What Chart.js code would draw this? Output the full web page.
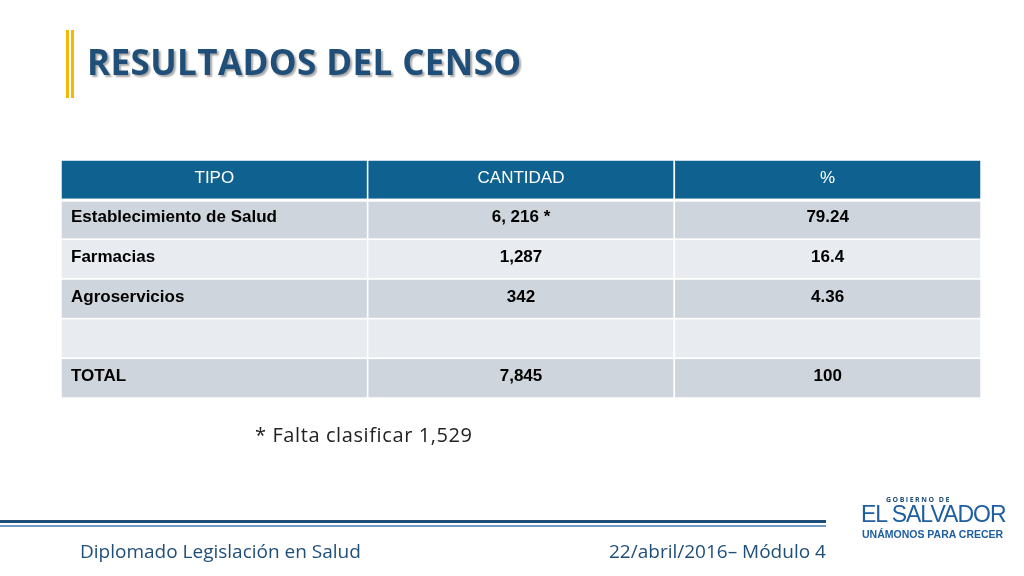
<!DOCTYPE html>
<html><head><meta charset="utf-8">
<script src="https://cdn.jsdelivr.net/npm/chart.js@4/dist/chart.umd.min.js"></script>
<style>
body{margin:0;width:1024px;height:576px;background:#fff;position:relative;overflow:hidden;font-family:"Open Sans",sans-serif}
#c{position:absolute;left:0;top:0}
.t{position:absolute;white-space:nowrap}
</style></head><body>
<canvas id="c" width="1024" height="576"></canvas>
<div class="t" style="left:66px;top:30px;width:3px;height:68px;background:#f2b900"></div>
<div class="t" style="left:71px;top:30px;width:3px;height:68px;background:#f2b900"></div>
<div class="t" style="left:87px;top:38px;font-size:35px;font-weight:bold;color:#1f4e79;text-shadow:2px 2px 2px rgba(0,0,0,.35);letter-spacing:0.4px">RESULTADOS DEL CENSO</div>
<div class="t" style="left:255px;top:421px;font-size:20px;color:#222;letter-spacing:0.6px">* Falta clasificar 1,529</div>
<div class="t" style="left:0;top:520px;width:826px;height:3px;background:#1f4e79"></div>
<div class="t" style="left:0;top:525px;width:826px;height:2px;background:#6f9bc6"></div>
<div class="t" style="left:80px;top:538px;font-size:19px;color:#1f4e79">Diplomado Legislación en Salud</div>
<div class="t" style="left:609px;top:538px;font-size:19px;color:#1f4e79">22/abril/2016– Módulo 4</div>
<div class="t" style="left:886px;top:495px;font-size:7px;font-weight:bold;color:#1f4e79;letter-spacing:1.5px">GOBIERNO DE</div>
<div class="t" style="left:861px;top:501px;font-size:23px;font-family:'Liberation Sans';color:#1f5fa0;letter-spacing:-1px">EL SALVADOR</div>
<div class="t" style="left:862px;top:528px;font-size:10.5px;font-weight:bold;font-family:'Liberation Sans';color:#1f5fa0">UNÁMONOS PARA CRECER</div>
<script>
const columns=['TIPO','CANTIDAD','%'];
const rowTypes=['Establecimiento de Salud','Farmacias','Agroservicios','','TOTAL'];
const cantidad=['6, 216 *','1,287','342','','7,845'];
const porcentaje=['79.24','16.4','4.36','','100'];
const rows=['header'].concat(rowTypes.map((_,i)=>'r'+i));
const tablePlugin={id:'table',beforeDatasetsDraw(ch){
 const ctx=ch.ctx,xs=ch.scales.x,ys=ch.scales.y;
 const cw=(xs.right-xs.left)/columns.length,rh=(ys.bottom-ys.top)/rows.length;
 rows.forEach((r,ri)=>{
  const cy=ys.getPixelForValue(ri);
  columns.forEach((c,ci)=>{
   const cx=xs.getPixelForValue(ci);
   let fill,txt,col='#000';
   if(ri===0){fill='#0f6290';txt=c;col='#fff';}
   else{fill=(ri%2===1)?'#cfd5dd':'#e8ebef';const k=ri-1;txt=ci===0?rowTypes[k]:ci===1?cantidad[k]:porcentaje[k];}
   ctx.fillStyle=fill;ctx.fillRect(cx-cw/2,cy-rh/2,cw,rh);
   ctx.strokeStyle='#fff';ctx.lineWidth=1.5;ctx.strokeRect(cx-cw/2,cy-rh/2,cw,rh);
   ctx.fillStyle=col;ctx.font=(ri===0?'':'bold ')+'17px "Liberation Sans"';ctx.textBaseline='middle';
   if(ci===0&&ri>0){ctx.textAlign='left';ctx.fillText(txt,cx-cw/2+10,cy-2);}
   else{ctx.textAlign='center';ctx.fillText(txt,cx,cy-2);}
  });
 });
 ctx.fillStyle='#fff';ctx.fillRect(xs.left,ys.getPixelForValue(0)+rh/2-1,xs.right-xs.left,3);
}};
new Chart(document.getElementById('c'),{type:'bar',
 data:{labels:columns,datasets:[{data:[]}]},
 options:{responsive:false,animation:false,layout:{padding:{left:61,right:43,top:160,bottom:178}},
  plugins:{legend:{display:false},tooltip:{enabled:false}},
  scales:{x:{type:'category',labels:columns,offset:true,display:false},
          y:{type:'category',labels:rows,offset:true,display:false}}},
 plugins:[tablePlugin]});
</script>
</body></html>
